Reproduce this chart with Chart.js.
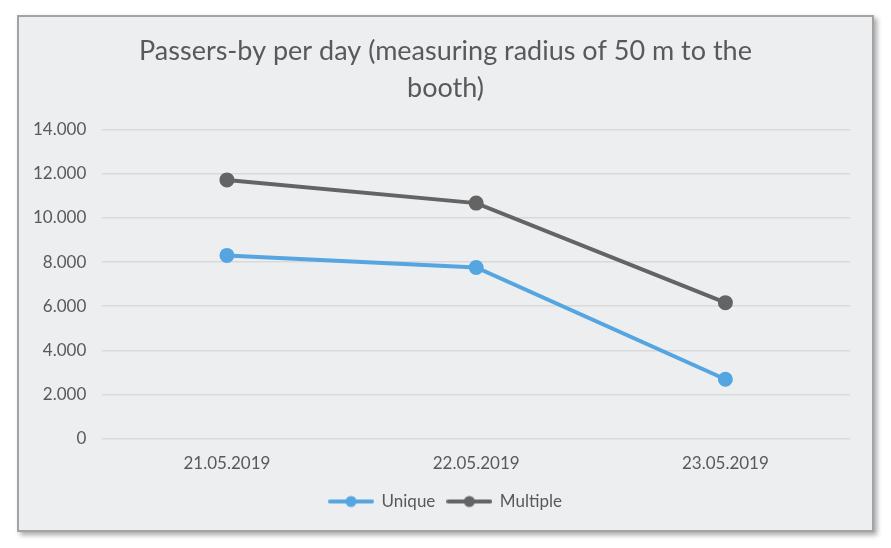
<!DOCTYPE html>
<html lang="en">
<head>
    <meta charset="UTF-8">
    <title>Passers-by per day</title>
    <style>
        body {
            margin: 0;
            background: #ffffff;
            font-family: Lato, sans-serif;
        }
        #card {
            position: absolute;
            left: 17px;
            top: 15px;
            width: 853px;
            height: 513px;
            background: #edeef0;
            border: 2px solid #a3a3a3;
            box-shadow: 3px 3px 5px rgba(0, 0, 0, 0.35);
        }
        #card canvas {
            display: block;
        }
    </style>
    <script src="https://cdn.jsdelivr.net/npm/chart.js"></script>
</head>
<body>
    <div id="card">
        <canvas id="chart" width="853" height="513"></canvas>
    </div>
    <script>
        const dates = ['21.05.2019', '22.05.2019', '23.05.2019'];
        const uniqueVals = [8300, 7750, 2690];
        const multipleVals = [11720, 10670, 6160];
        const yMax = 14000;
        const yStep = 2000;

        const blue = '#55a5e1';
        const grey = '#646464';

        // small legend marker: line with a dot in the middle
        function legendMarker(color) {
            const c = document.createElement('canvas');
            c.width = 46;
            c.height = 14;
            const g = c.getContext('2d');
            g.strokeStyle = color;
            g.lineWidth = 4;
            g.lineCap = 'round';
            g.beginPath();
            g.moveTo(2, 7);
            g.lineTo(44, 7);
            g.stroke();
            g.fillStyle = color;
            g.beginPath();
            g.arc(23, 7, 5.5, 0, Math.PI * 2);
            g.fill();
            return c;
        }
        const markers = [legendMarker(blue), legendMarker(grey)];

        new Chart(document.getElementById('chart'), {
            type: 'line',
            data: {
                labels: dates,
                datasets: [{
                    label: 'Unique',
                    data: uniqueVals,
                    borderColor: blue,
                    backgroundColor: blue,
                    borderWidth: 4,
                    pointRadius: 5.5,
                    pointHoverRadius: 5.5,
                    tension: 0
                }, {
                    label: 'Multiple',
                    data: multipleVals,
                    borderColor: grey,
                    backgroundColor: grey,
                    borderWidth: 4,
                    pointRadius: 5.5,
                    pointHoverRadius: 5.5,
                    tension: 0
                }]
            },
            options: {
                responsive: false,
                animation: false,
                layout: {
                    padding: { left: 11, right: 11, top: 13, bottom: 10 }
                },
                scales: {
                    x: {
                        offset: true,
                        grid: { display: false },
                        border: { display: false },
                        ticks: {
                            color: '#595959',
                            font: { family: 'Lato', size: 17 },
                            padding: 7
                        }
                    },
                    y: {
                        min: 0,
                        max: yMax,
                        grid: { color: '#d9d9d9', lineWidth: 1.5, drawTicks: false },
                        border: { display: false },
                        ticks: {
                            stepSize: yStep,
                            color: '#595959',
                            font: { family: 'Lato', size: 17 },
                            padding: 16,
                            callback: v => v.toLocaleString('de-DE')
                        },
                        afterFit: s => { s.width -= 13; }
                    },
                    // empty spacer on the right so the plot ends where the reference does
                    yRight: {
                        position: 'right',
                        grid: { display: false },
                        border: { display: false },
                        ticks: { display: false },
                        afterFit: s => { s.width = 11; }
                    }
                },
                plugins: {
                    title: {
                        display: true,
                        text: ['Passers-by per day (measuring radius of 50 m to the', 'booth)'],
                        color: '#595959',
                        font: { family: 'Lato', size: 27, weight: 'normal', lineHeight: 1.4 },
                        padding: { top: 2, bottom: 22 }
                    },
                    legend: {
                        position: 'bottom',
                        labels: {
                            usePointStyle: true,
                            pointStyleWidth: 44,
                            color: '#595959',
                            font: { family: 'Lato', size: 17 },
                            padding: 12,
                            generateLabels: chart => {
                                const items = Chart.defaults.plugins.legend.labels.generateLabels(chart);
                                items.forEach((it, i) => { it.pointStyle = markers[i]; });
                                return items;
                            }
                        }
                    },
                    tooltip: { enabled: false }
                }
            }
        });
    </script>
</body>
</html>
